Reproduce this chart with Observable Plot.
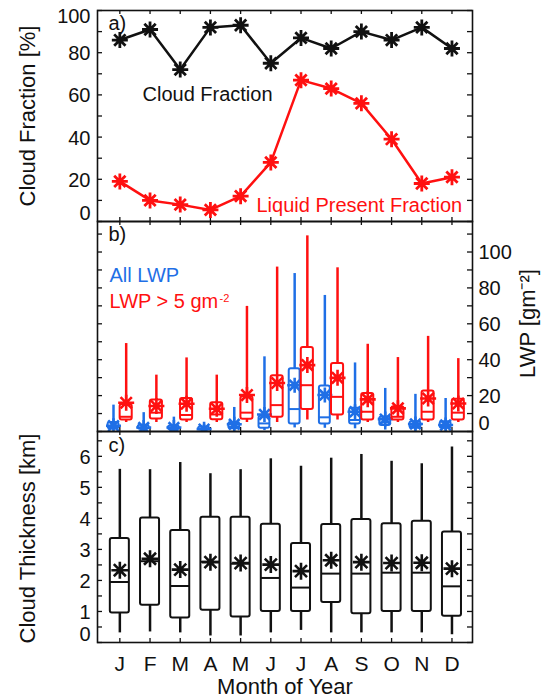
<!DOCTYPE html>
<html>
<head>
<meta charset="utf-8">
<script src="https://cdn.jsdelivr.net/npm/d3@7"></script>
<script src="https://cdn.jsdelivr.net/npm/@observablehq/plot@0.6"></script>
<style>
  body { margin: 0; background: #fff; }
  #chart { position: relative; width: 543px; height: 700px; background: #fff; }
  #chart svg { position: absolute; left: 0; top: 0; overflow: visible; }
</style>
</head>
<body>
<div id="chart"></div>
<script>
// ---- Data -------------------------------------------------------------
const months = ["J", "F", "M", "A", "M", "J", "J", "A", "S", "O", "N", "D"];
const monthNums = [1, 2, 3, 4, 5, 6, 7, 8, 9, 10, 11, 12];

// a) monthly cloud fraction and liquid-present fraction (%)
const cloudFraction  = [86, 91, 72, 92, 93, 75, 87, 82, 90, 86, 92, 82];
const liquidFraction = [19, 10, 8, 5.5, 12, 28, 67, 63, 56, 39, 18, 21];

// b) LWP distributions (g m-2): whisker low, Q1, median, Q3, whisker high, mean
const allLo   = [0.5, 0.5, 0.5, 0.3, 0.5, 0.5, 2.0, 1.8, 1.5, 0.8, 0.5, 0.5];
const allQ1   = [1.5, 1.2, 1.0, 0.8, 1.5, 1.8, 4.2, 4.2, 4.2, 3.4, 1.8, 1.8];
const allMed  = [2.5, 2.0, 1.8, 1.5, 2.5, 4.5, 12.5, 7.9, 6.4, 5.0, 3.0, 3.0];
const allQ3   = [5.0, 3.5, 3.0, 2.5, 5.0, 8.5, 35.0, 25.4, 12.9, 8.1, 5.5, 5.5];
const allHi   = [14.7, 10.5, 8.0, 4.0, 13.4, 41.6, 88.0, 75.8, 38.2, 24.0, 20.7, 18.4];
const allMean = [3.2, 2.2, 2.2, 1.3, 4.0, 9.5, 25.8, 20.3, 11.0, 6.9, 4.2, 3.6];

const wetLo   = [5, 5, 5, 5, 5, 5, 6.4, 6.4, 5, 5, 5, 5];
const wetQ1   = [6.4, 7.0, 6.4, 6.6, 6.8, 7.9, 12.3, 9.2, 6.4, 6.4, 6.4, 6.4];
const wetMed  = [8.2, 10.5, 9.2, 9.5, 10.5, 14.7, 25.8, 19.3, 11.0, 8.2, 11.0, 10.5];
const wetQ3   = [15.0, 17.5, 18.4, 16.0, 19.3, 31.0, 46.8, 37.9, 21.2, 13.8, 22.5, 18.0];
const wetHi   = [49.0, 31.4, 41.0, 31.4, 69.7, 91.6, 109.0, 91.2, 48.6, 41.2, 53.0, 40.6];
const wetMean = [16.0, 14.2, 15.5, 12.7, 20.3, 27.0, 37.0, 29.9, 17.9, 12.9, 18.4, 15.6];

// c) cloud thickness distributions (km)
const thLo   = [0.31, 0.34, 0.31, 0.21, 0.21, 0.31, 0.39, 0.31, 0.31, 0.31, 0.31, 0.25];
const thQ1   = [0.95, 1.20, 0.79, 1.04, 0.82, 1.00, 1.00, 1.29, 0.93, 1.00, 1.00, 0.85];
const thMed  = [1.95, 2.62, 1.82, 2.60, 2.54, 2.08, 1.77, 2.22, 2.22, 2.25, 2.25, 1.81];
const thQ3   = [3.35, 4.01, 3.61, 4.04, 4.04, 3.81, 3.19, 3.80, 3.96, 3.83, 3.91, 3.56];
const thHi   = [5.58, 5.57, 5.80, 5.44, 5.57, 5.92, 5.68, 5.94, 6.06, 5.84, 5.76, 6.30];
const thMean = [2.33, 2.70, 2.35, 2.59, 2.56, 2.51, 2.30, 2.65, 2.59, 2.56, 2.57, 2.38];

// Axis tick labels
const fracTicks = [0, 20, 40, 60, 80, 100];
const lwpTicks  = [0, 20, 40, 60, 80, 100];
const thTicks   = [0, 1, 2, 3, 4, 5, 6];

// ---- Layout & style ----------------------------------------------------
const W = 543, H = 700;
const ML = 97, MR = 71;
const FW = W - ML - MR;
const FONT = "'Liberation Sans', Arial, Helvetica, sans-serif";
const RED = "#ff1010";
const BLUE = "#1f6fe6";
const INK = "#111";
const xScale = {type: "linear", domain: [0.26, 12.68], axis: null};

// IDL-style asterisk: plus sign overlaid on a cross
const asterisk = {
  draw(context, size) {
    const r = Math.sqrt(size / Math.PI);
    const d = r * Math.SQRT1_2;
    context.moveTo(0, -r); context.lineTo(0, r);
    context.moveTo(-r, 0); context.lineTo(r, 0);
    context.moveTo(-d, -d); context.lineTo(d, d);
    context.moveTo(-d, d); context.lineTo(d, -d);
  }
};

// Inward ticks on all four sides of a panel
function frameTicks(yTicks, frameH) {
  const tk = {stroke: INK, strokeWidth: 1.3};
  return [
    Plot.tickY(yTicks, {y: d => d, insetRight: FW - 5, ...tk}),
    Plot.tickY(yTicks, {y: d => d, insetLeft: FW - 5, ...tk}),
    Plot.tickX(monthNums, {x: d => d, insetBottom: frameH - 4, ...tk}),
    Plot.tickX(monthNums, {x: d => d, insetTop: frameH - 4, ...tk})
  ];
}

function boxMarks(rows, color, halfW, r, clip) {
  return [
    Plot.ruleX(rows, {x: "x", y1: "lo", y2: "q1", stroke: color, strokeWidth: 2.5, clip}),
    Plot.ruleX(rows, {x: "x", y1: "q3", y2: "hi", stroke: color, strokeWidth: 2.5, clip}),
    Plot.rect(rows, {x1: d => d.x - halfW, x2: d => d.x + halfW, y1: "q1", y2: "q3",
                     fill: "none", stroke: color, strokeWidth: 2, rx: 2, clip}),
    Plot.ruleY(rows, {y: "med", x1: d => d.x - halfW, x2: d => d.x + halfW,
                      stroke: color, strokeWidth: 2, clip}),
    Plot.dot(rows, {x: "x", y: "mean", symbol: asterisk, r, stroke: color,
                    strokeWidth: 2.6, fill: "none", clip})
  ];
}

const rowsOf = (off, lo, q1, med, q3, hi, mean) =>
  monthNums.map((m, i) => ({x: m + off, lo: lo[i], q1: q1[i], med: med[i], q3: q3[i], hi: hi[i], mean: mean[i]}));

const common = {
  width: W, height: H, marginLeft: ML, marginRight: MR, x: xScale,
  style: {background: "transparent", fontFamily: FONT, overflow: "visible"}
};
const txt = {fontFamily: FONT, fill: INK};

// ---- a) Cloud fraction -------------------------------------------------
const aTop = 10, aBot = 221;
const fracRows = monthNums.map((m, i) => ({m, cf: cloudFraction[i], lf: liquidFraction[i]}));
const panelA = Plot.plot({
  ...common,
  marginTop: aTop, marginBottom: H - aBot,
  y: {domain: [0, 100], axis: null},
  marks: [
    ...frameTicks(d3.range(0, 101, 10), aBot - aTop),
    Plot.line(fracRows, {x: "m", y: "cf", stroke: INK, strokeWidth: 2.5}),
    Plot.dot(fracRows, {x: "m", y: "cf", symbol: asterisk, r: 8, stroke: INK, strokeWidth: 2.8}),
    Plot.line(fracRows, {x: "m", y: "lf", stroke: RED, strokeWidth: 2.5}),
    Plot.dot(fracRows, {x: "m", y: "lf", symbol: asterisk, r: 8, stroke: RED, strokeWidth: 2.8}),
    Plot.text(fracTicks.slice(1, -1), {y: d => d, frameAnchor: "left", textAnchor: "end", dx: -7, dy: 1, fontSize: 20, ...txt}),
    Plot.text([0], {y: d => d, frameAnchor: "left", textAnchor: "end", dx: -7, dy: -8, fontSize: 20, ...txt}),
    Plot.text([100], {y: d => d, frameAnchor: "left", textAnchor: "end", dx: -7, dy: 6, fontSize: 20, ...txt}),
    Plot.text(["Cloud Fraction [%]"], {frameAnchor: "left", textAnchor: "middle", lineAnchor: "middle", rotate: -90, dx: -70, fontSize: 22, ...txt}),
    Plot.text(["a)"], {frameAnchor: "top-left", textAnchor: "start", lineAnchor: "bottom", dx: 11, dy: 19, fontSize: 20, ...txt}),
    Plot.text(["Cloud Fraction"], {frameAnchor: "top-left", textAnchor: "start", lineAnchor: "bottom", dx: 45, dy: 90, fontSize: 20, ...txt}),
    Plot.text(["Liquid Present Fraction"], {frameAnchor: "top-left", textAnchor: "start", lineAnchor: "bottom", dx: 159, dy: 201, fontSize: 20, fontFamily: FONT, fill: RED}),
    Plot.frame({stroke: INK, strokeWidth: 1.6})
  ]
});

// ---- b) Liquid water path ----------------------------------------------
const bTop = 221, bBot = 431;
const blueRows = rowsOf(-0.21, allLo, allQ1, allMed, allQ3, allHi, allMean);
const redRows  = rowsOf(0.21, wetLo, wetQ1, wetMed, wetQ3, wetHi, wetMean);
const panelB = Plot.plot({
  ...common,
  marginTop: bTop, marginBottom: H - bBot,
  y: {domain: [0, 117], axis: null},
  marks: [
    ...frameTicks(d3.range(0, 111, 10), bBot - bTop),
    ...boxMarks(blueRows, BLUE, 0.18, 7.5, true),
    ...boxMarks(redRows, RED, 0.2, 8, true),
    Plot.text(lwpTicks.slice(1), {y: d => d, frameAnchor: "right", textAnchor: "start", dx: 6, dy: 1, fontSize: 20, ...txt}),
    Plot.text([0], {y: d => d, frameAnchor: "right", textAnchor: "start", dx: 6, dy: -7.5, fontSize: 20, ...txt}),
    Plot.text(["LWP [gm\u207B\u00B2]"], {frameAnchor: "right", textAnchor: "middle", lineAnchor: "middle", rotate: -90, dx: 55, dy: -3, fontSize: 22, ...txt}),
    Plot.text(["b)"], {frameAnchor: "top-left", textAnchor: "start", lineAnchor: "bottom", dx: 11, dy: 19.5, fontSize: 20, ...txt}),
    Plot.text(["All LWP"], {frameAnchor: "top-left", textAnchor: "start", lineAnchor: "bottom", dx: 12, dy: 60.5, fontSize: 20, fontFamily: FONT, fill: BLUE}),
    Plot.text(["LWP > 5 gm"], {frameAnchor: "top-left", textAnchor: "start", lineAnchor: "bottom", dx: 12, dy: 86.3, fontSize: 20, fontFamily: FONT, fill: RED}),
    Plot.text(["-2"], {frameAnchor: "top-left", textAnchor: "start", lineAnchor: "bottom", dx: 122, dy: 80.5, fontSize: 11, fontFamily: FONT, fill: RED}),
    Plot.frame({stroke: INK, strokeWidth: 1.6})
  ]
});

// ---- c) Cloud thickness ------------------------------------------------
const cTop = 431, cBot = 642;
const thRows = rowsOf(0, thLo, thQ1, thMed, thQ3, thHi, thMean);
const panelC = Plot.plot({
  ...common,
  marginTop: cTop, marginBottom: H - cBot,
  y: {domain: [0, 6.8], axis: null},
  marks: [
    ...frameTicks(d3.range(0, 6.81, 0.5), cBot - cTop),
    ...boxMarks(thRows, INK, 0.315, 8.5, false),
    Plot.text(thTicks.slice(1), {y: d => d, frameAnchor: "left", textAnchor: "end", dx: -7, dy: 1, fontSize: 20, ...txt}),
    Plot.text([0], {y: d => d, frameAnchor: "left", textAnchor: "end", dx: -7, dy: -8, fontSize: 20, ...txt}),
    Plot.text(["Cloud Thickness [km]"], {frameAnchor: "left", textAnchor: "middle", lineAnchor: "middle", rotate: -90, dx: -70, dy: 1.5, fontSize: 22, ...txt}),
    Plot.text(["c)"], {frameAnchor: "top-left", textAnchor: "start", lineAnchor: "bottom", dx: 11, dy: 20, fontSize: 20, ...txt}),
    Plot.text(monthNums, {x: d => d, text: (d, i) => months[i], frameAnchor: "bottom", lineAnchor: "bottom", dy: 28, fontSize: 21, ...txt}),
    Plot.text(["Month of Year"], {frameAnchor: "bottom", lineAnchor: "bottom", dy: 51, fontSize: 22, ...txt}),
    Plot.frame({stroke: INK, strokeWidth: 1.6})
  ]
});

const chart = document.getElementById("chart");
chart.append(panelA, panelB, panelC);
</script>
</body>
</html>
